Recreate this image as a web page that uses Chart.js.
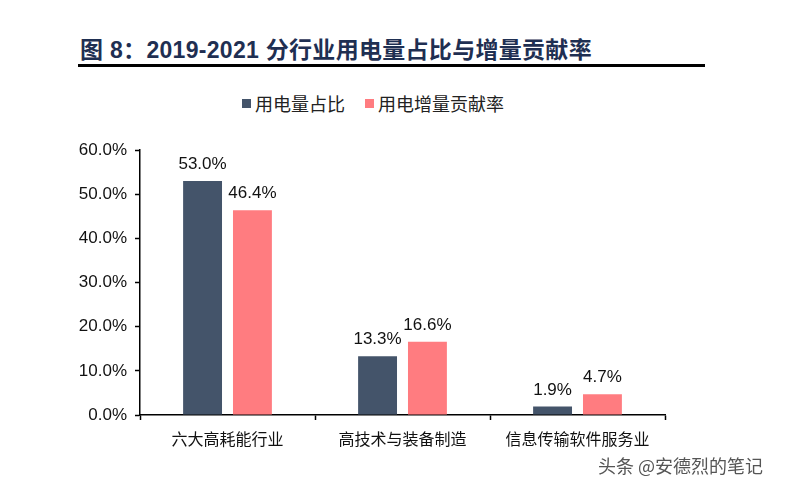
<!DOCTYPE html>
<html>
<head>
<meta charset="utf-8">
<script src="https://cdn.jsdelivr.net/npm/chart.js@4/dist/chart.umd.min.js"></script>
<style>
  html, body { margin: 0; padding: 0; background: #fff; }
  body { width: 808px; height: 496px; position: relative; overflow: hidden;
         font-family: Arial, "Liberation Sans", "Noto Sans CJK SC", sans-serif; }
  #title { position: absolute; left: 80px; top: 31px; font-size: 23px; font-weight: bold;
           color: #1f2f52; letter-spacing: 0.3px; white-space: nowrap; }
  #rule { position: absolute; left: 78px; top: 64px; width: 627px; height: 3px; background: #000; }
  #legend { position: absolute; left: 242px; top: 90px; font-size: 18px; color: #222; white-space: nowrap;
            font-family: "Noto Sans CJK SC", sans-serif; }
  #legend span.sw { display: inline-block; width: 9px; height: 9px; margin-right: 4px; vertical-align: 3px; }
  #wrap { position: absolute; left: 0; top: 132px; width: 720px; height: 330px; }
  #mark { position: absolute; left: 598px; top: 452px; font-size: 18px; color: #555;
          font-family: "Noto Sans CJK SC", sans-serif; white-space: nowrap; }
</style>
</head>
<body>
<div id="title">图 8：2019-2021 分行业用电量占比与增量贡献率</div>
<div id="rule"></div>
<div id="legend"><span class="sw" style="background:#44546a"></span>用电量占比<span style="display:inline-block;width:20px"></span><span class="sw" style="background:#ff7c80"></span>用电增量贡献率</div>
<div id="wrap"><canvas id="chart"></canvas></div>
<div id="mark">头条 @安德烈的笔记</div>
<script>
// 数据
const categories = ['六大高耗能行业', '高技术与装备制造', '信息传输软件服务业'];
const shareValues = [53.0, 13.3, 1.9];
const contribValues = [46.4, 16.6, 4.7];
const yTicks = [0, 10, 20, 30, 40, 50, 60];

// 柱顶标签
const barLabels = {
    id: 'barLabels',
    afterDatasetsDraw(chart) {
        const ctx = chart.ctx;
        ctx.save();
        ctx.font = '17px Arial, "Liberation Sans", sans-serif';
        ctx.fillStyle = '#111';
        ctx.textAlign = 'center';
        ctx.textBaseline = 'bottom';
        chart.data.datasets.forEach((ds, i) => {
            chart.getDatasetMeta(i).data.forEach((bar, j) => {
                ctx.fillText(ds.data[j].toFixed(1) + '%', bar.x, bar.y - 8);
            });
        });
        ctx.restore();
    }
};

new Chart(document.getElementById('chart'), {
    type: 'bar',
    data: {
        labels: categories,
        datasets: [
            { label: '用电量占比', data: shareValues, backgroundColor: '#44546a',
              categoryPercentage: 0.57, barPercentage: 0.78 },
            { label: '用电增量贡献率', data: contribValues, backgroundColor: '#ff7c80',
              categoryPercentage: 0.57, barPercentage: 0.78 }
        ]
    },
    options: {
        responsive: true,
        maintainAspectRatio: false,
        animation: false,
        layout: { padding: { top: 18, right: 55, left: 0, bottom: 0 } },
        plugins: { legend: { display: false }, tooltip: { enabled: false } },
        scales: {
            x: {
                afterFit: (s) => { s.height = 47; },
                border: { color: '#000', width: 1.5 },
                grid: { offset: true, drawOnChartArea: false, tickLength: 5, color: '#000', tickWidth: 1.5 },
                ticks: { color: '#111', padding: 9,
                         font: { size: 16, family: '"Noto Sans CJK SC", sans-serif' } }
            },
            y: {
                min: 0, max: 60,
                afterFit: (s) => { s.width = 140; },
                afterBuildTicks: (s) => { s.ticks = yTicks.map(v => ({ value: v })); },
                border: { color: '#000', width: 1.5 },
                grid: { drawOnChartArea: false, tickLength: 5, color: '#000', tickWidth: 1.5 },
                ticks: { color: '#111', padding: 8,
                         font: { size: 17, family: 'Arial, "Liberation Sans", sans-serif' },
                         callback: (v) => v.toFixed(1) + '%' }
            }
        }
    },
    plugins: [barLabels]
});
</script>
</body>
</html>
